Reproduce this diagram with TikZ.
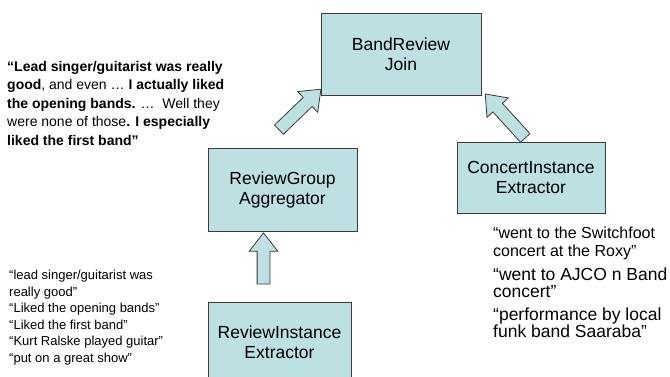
\documentclass[tikz,border=0pt]{standalone}
\usepackage{fontspec}
\setmainfont{Liberation Sans}
\usetikzlibrary{shapes.arrows, calc}
\definecolor{boxcyan}{HTML}{BDE0E3}
\definecolor{edge}{HTML}{3A3A3A}

% block arrow from tail coordinate to tip coordinate
\newcommand{\blockarrow}[2]{%
  \path let \p1=(#1), \p2=(#2), \n1={atan2(\y2-\y1,\x2-\x1)}, \n2={veclen(\x2-\x1,\y2-\y1)} in
    node[fatarrow, minimum height=\n2, rotate=\n1] at ($(\p1)!0.5!(\p2)$) {};}

\begin{document}
\begin{tikzpicture}[x=1pt, y=-1pt,
    block/.style={rectangle, draw=edge, line width=0.8pt, fill=boxcyan, align=center, font=\fontsize{17.5}{20}\selectfont},
    fatarrow/.style={single arrow, draw=edge, line width=0.8pt, fill=boxcyan, inner xsep=0pt, inner ysep=6pt, single arrow head extend=8pt, single arrow tip angle=76, single arrow head indent=0pt},
    quote/.style={inner sep=0pt, anchor=base west, align=left}
]
    \useasboundingbox (0,0) rectangle (670,376);
    \clip (0,0) rectangle (670,376);

    % Boxes
    \node[block, minimum width=160pt, minimum height=82pt] (join) at (401,54) {BandReview\\Join};
    \node[block, minimum width=149pt, minimum height=83pt] (group) at (282.5,189.5) {ReviewGroup\\Aggregator};
    \node[block, minimum width=148pt, minimum height=71pt] (concert) at (531,177.5) {ConcertInstance\\Extractor};
    \node[block, minimum width=143pt, minimum height=80pt] (instance) at (279.5,342) {ReviewInstance\\Extractor};

    % Arrow ends
    \coordinate (instance tail) at (263.5,288);
    \coordinate (group tip) at (263.5,237);
    \coordinate (group tail) at (276,132.5);
    \coordinate (join tip left) at (318,92);
    \coordinate (concert tail) at (528,141);
    \coordinate (join tip right) at (488,97);

    \blockarrow{instance tail}{group tip}
    \blockarrow{group tail}{join tip left}
    \blockarrow{concert tail}{join tip right}

    % Review text (placed by its last baseline)
    \node[quote, font=\fontsize{14}{18.5}\selectfont] (review) at (7,145)
        {\textbf{“Lead singer/guitarist was really}\\
         \textbf{good}, and even … \textbf{I actually liked}\\
         \textbf{the opening bands.} …\ \ Well they\\
         were none of those\textbf{. I especially}\\
         \textbf{liked the first band”}};

    % Review instances
    \node[quote, font=\fontsize{13}{16.5}\selectfont] (snippets) at (9,362)
        {“lead singer/guitarist was\\
         really good”\\
         “Liked the opening bands”\\
         “Liked the first band”\\
         “Kurt Ralske played guitar”\\
         “put on a great show”};

    % Concert instances
    \node[quote, font=\fontsize{16}{18}\selectfont] (switchfoot) at (493,256)
        {“went to the Switchfoot\\concert at the Roxy”};
    \node[quote, font=\fontsize{17.5}{17.5}\selectfont] (ajco) at (493,297.5)
        {“went to AJCO n Band\\concert”};
    \node[quote, font=\fontsize{17.5}{17.5}\selectfont] (saaraba) at (493,337.5)
        {“performance by local\\funk band Saaraba”};
\end{tikzpicture}
\end{document}
